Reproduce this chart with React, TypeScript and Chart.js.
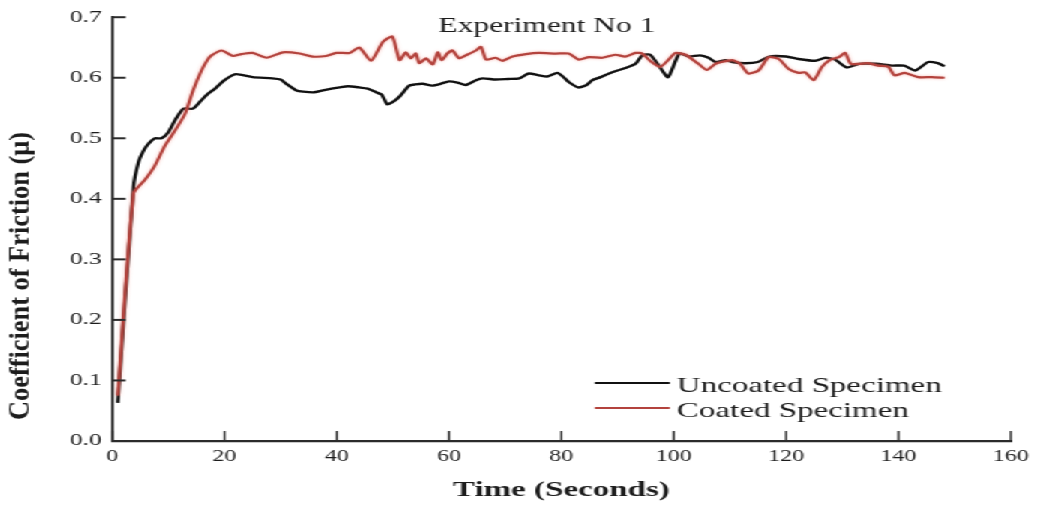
import React, { useEffect, useRef } from 'react';
import { Chart, registerables } from 'chart.js';

Chart.register(...registerables);

// Friction test, experiment 1: time (s) vs coefficient of friction
const uncoatedTime = [1, 3.8, 4.7, 5.5, 6.2, 7, 7.6, 8.8, 10, 11.2, 12.7, 14.4, 15.9, 17, 18.3, 20, 22, 25, 28.5, 30, 31, 32.8, 34, 36, 38, 40.5, 42, 44, 45.5, 47, 48, 49, 50, 51.2, 52.9, 54, 55.3, 57, 58.5, 60, 61.5, 63, 64.8, 66, 68.3, 70.5, 72.5, 74.2, 76, 77.5, 79.3, 80.5, 81.3, 83, 84.5, 85.5, 87, 88.5, 90, 91.4, 93.2, 94.4, 95.8, 97.5, 99, 101, 102.7, 104.7, 106.2, 107.4, 109.2, 110.4, 112.7, 115, 117, 120, 122.2, 125.2, 127, 128.7, 130.8, 133, 136, 138.8, 141, 143, 145.3, 147, 148.2];
const uncoatedMu = [0.063, 0.42, 0.461, 0.478, 0.488, 0.496, 0.5, 0.5, 0.51, 0.53, 0.549, 0.549, 0.563, 0.573, 0.582, 0.596, 0.606, 0.601, 0.599, 0.597, 0.59, 0.579, 0.577, 0.576, 0.58, 0.584, 0.586, 0.584, 0.582, 0.576, 0.572, 0.556, 0.56, 0.569, 0.587, 0.589, 0.59, 0.587, 0.59, 0.594, 0.592, 0.588, 0.596, 0.599, 0.597, 0.598, 0.599, 0.607, 0.604, 0.602, 0.608, 0.6, 0.593, 0.584, 0.588, 0.596, 0.601, 0.607, 0.612, 0.616, 0.623, 0.637, 0.638, 0.618, 0.601, 0.64, 0.635, 0.637, 0.633, 0.626, 0.629, 0.626, 0.624, 0.626, 0.635, 0.635, 0.631, 0.628, 0.633, 0.63, 0.617, 0.623, 0.623, 0.62, 0.62, 0.612, 0.626, 0.624, 0.619];

const coatedTime = [1, 3.8, 5.8, 7.6, 9.4, 11.2, 13, 14.4, 15.9, 17, 17.7, 19.5, 21.5, 23, 25, 27.5, 30.4, 33.4, 35.7, 38.1, 39.9, 42.3, 44, 46.1, 48.2, 49.9, 51.2, 52.3, 53.2, 54.1, 54.7, 55.9, 57.1, 58, 58.7, 59.7, 60.6, 61.8, 63, 64.8, 65.7, 66.6, 68.3, 69.5, 71.3, 73.7, 76, 79, 81.3, 83.1, 84.9, 87.3, 89.6, 91.4, 93.2, 94.4, 95.8, 97.6, 99.1, 100.3, 102.1, 104.4, 105.9, 107.4, 108.5, 110.4, 111.8, 113.3, 115.1, 116.9, 118.7, 120.4, 122.2, 123.4, 124.9, 126.4, 127.9, 129.4, 130.5, 131.5, 133, 134.6, 136.4, 138.2, 139.3, 141.1, 143.5, 145.9, 148.2];
const coatedMu = [0.075, 0.409, 0.431, 0.455, 0.488, 0.513, 0.541, 0.579, 0.612, 0.63, 0.637, 0.645, 0.636, 0.639, 0.641, 0.633, 0.642, 0.64, 0.635, 0.636, 0.641, 0.641, 0.65, 0.628, 0.659, 0.668, 0.629, 0.642, 0.632, 0.64, 0.624, 0.632, 0.622, 0.642, 0.629, 0.64, 0.645, 0.632, 0.637, 0.645, 0.651, 0.63, 0.633, 0.628, 0.635, 0.639, 0.641, 0.64, 0.64, 0.63, 0.634, 0.633, 0.638, 0.635, 0.641, 0.64, 0.628, 0.618, 0.63, 0.641, 0.638, 0.623, 0.613, 0.623, 0.626, 0.629, 0.623, 0.607, 0.612, 0.634, 0.631, 0.615, 0.608, 0.609, 0.596, 0.618, 0.63, 0.634, 0.641, 0.623, 0.623, 0.624, 0.62, 0.618, 0.604, 0.608, 0.601, 0.601, 0.6];

const seriesLabels = ['Uncoated Specimen', 'Coated Specimen'];
const seriesColors = ['#111111', '#b3433d'];

const chartTitle = 'Experiment No 1';
const xTitle = 'Time (Seconds)';
const yTitle = 'Coefficient of Friction (\u03bc)';

const xMin = 0;
const xMax = 160;
const xStep = 20;
const yMin = 0;
const yMax = 0.7;
const yStep = 0.1;

// The figure is drawn narrow and widened horizontally as a whole.
const WIDEN = 1.5;
const PAGE_W = 1038;
const PAGE_H = 508;
const CANVAS_W = PAGE_W / WIDEN;

const SERIF = '"Liberation Serif", "Times New Roman", serif';
const AXIS_COLOR = '#2b2b2b';
const TEXT_COLOR = '#1c1c1c';

const PLOT_LEFT = 112 / WIDEN;
const PLOT_RIGHT = 1013 / WIDEN;
const PLOT_TOP = 17;
const PLOT_BOTTOM = 441;

const insideTicks = {
  id: 'insideTicks',
  afterDraw(chart: any) {
    const { ctx, chartArea, scales } = chart;
    const xs = scales.x;
    const ys = scales.y;
    ctx.save();
    ctx.strokeStyle = AXIS_COLOR;
    ctx.lineWidth = 1.4;
    xs.ticks.forEach((t: any) => {
      const px = xs.getPixelForValue(t.value);
      ctx.beginPath();
      ctx.moveTo(px, chartArea.bottom);
      ctx.lineTo(px, chartArea.bottom - 10);
      ctx.stroke();
    });
    ctx.lineWidth = 2;
    ys.ticks.forEach((t: any) => {
      const py = ys.getPixelForValue(t.value);
      ctx.beginPath();
      ctx.moveTo(chartArea.left, py);
      ctx.lineTo(chartArea.left + 9, py);
      ctx.stroke();
    });
    ctx.restore();
  },
};

const textDecor = {
  id: 'textDecor',
  afterDraw(chart: any) {
    const { ctx } = chart;
    ctx.save();
    ctx.fillStyle = TEXT_COLOR;

    // chart title inside the plot
    ctx.font = `21px ${SERIF}`;
    ctx.textAlign = 'center';
    ctx.textBaseline = 'alphabetic';
    ctx.fillText(chartTitle, 547 / WIDEN, 32);

    // vertical axis title, narrow bold lettering
    ctx.font = `bold 18px ${SERIF}`;
    const w = ctx.measureText(yTitle).width;
    ctx.save();
    ctx.translate(22 / WIDEN, 276);
    ctx.rotate(-Math.PI / 2);
    ctx.scale(288 / w, 1);
    ctx.textAlign = 'center';
    ctx.textBaseline = 'middle';
    ctx.fillText(yTitle, 0, 0);
    ctx.restore();

    // legend inside the plot, lower right
    const rows = [
      { ds: chart.data.datasets[0], y: 383 },
      { ds: chart.data.datasets[1], y: 408 },
    ];
    rows.forEach(({ ds, y }) => {
      ctx.strokeStyle = ds.borderColor;
      ctx.lineWidth = 2.2;
      ctx.beginPath();
      ctx.moveTo(595 / WIDEN, y);
      ctx.lineTo(670 / WIDEN, y);
      ctx.stroke();
      ctx.fillStyle = TEXT_COLOR;
      ctx.font = `22px ${SERIF}`;
      ctx.textAlign = 'left';
      ctx.textBaseline = 'middle';
      ctx.fillText(ds.label, 677 / WIDEN, y + 3);
    });
    ctx.restore();
  },
};

// soft pinkish halo around the coated-specimen trace
const lineGlow = {
  id: 'lineGlow',
  beforeDatasetDraw(chart: any, args: any) {
    if (args.index !== 1) return;
    const ctx = chart.ctx;
    ctx.save();
    ctx.shadowColor = 'rgba(240, 120, 110, 0.55)';
    ctx.shadowBlur = 3;
  },
  afterDatasetDraw(chart: any, args: any) {
    if (args.index !== 1) return;
    chart.ctx.restore();
  },
};

export default function App() {
  const canvasRef = useRef<HTMLCanvasElement | null>(null);

  useEffect(() => {
    if (!canvasRef.current) return;
    const chart = new Chart(canvasRef.current, {
      type: 'line',
      data: {
        datasets: [
          {
            label: seriesLabels[0],
            data: uncoatedTime.map((t, i) => ({ x: t, y: uncoatedMu[i] })),
            borderColor: seriesColors[0],
            borderWidth: 2.4,
            pointRadius: 0,
            tension: 0.2,
            order: 1,
          },
          {
            label: seriesLabels[1],
            data: coatedTime.map((t, i) => ({ x: t, y: coatedMu[i] })),
            borderColor: seriesColors[1],
            borderWidth: 2.2,
            pointRadius: 0,
            tension: 0.2,
            order: 0,
          },
        ],
      },
      options: {
        animation: false,
        responsive: true,
        maintainAspectRatio: false,
        events: [],
        layout: {
          padding: { top: PLOT_TOP, right: CANVAS_W - PLOT_RIGHT, left: 0, bottom: 0 },
        },
        plugins: {
          legend: { display: false },
          tooltip: { enabled: false },
          title: { display: false },
        },
        scales: {
          x: {
            type: 'linear',
            min: xMin,
            max: xMax,
            afterFit: (s: any) => {
              s.height = PAGE_H - PLOT_BOTTOM;
            },
            ticks: {
              stepSize: xStep,
              padding: 6,
              color: TEXT_COLOR,
              font: { family: SERIF, size: 16 },
              maxRotation: 0,
            },
            grid: { display: false, drawTicks: false },
            border: { display: true, color: AXIS_COLOR, width: 2.2 },
            title: {
              display: true,
              text: xTitle,
              color: TEXT_COLOR,
              font: { family: SERIF, size: 22, weight: 'bold' },
              padding: { top: 0, bottom: 4 },
            },
          },
          y: {
            type: 'linear',
            min: yMin,
            max: yMax,
            afterFit: (s: any) => {
              s.width = PLOT_LEFT;
            },
            ticks: {
              stepSize: yStep,
              padding: 7,
              color: TEXT_COLOR,
              font: { family: SERIF, size: 17 },
              callback: (v: any) => Number(v).toFixed(1),
            },
            grid: { display: false, drawTicks: false },
            border: { display: true, color: AXIS_COLOR, width: 1.8 },
          },
        },
      },
      plugins: [insideTicks, textDecor, lineGlow],
    } as any);
    return () => chart.destroy();
  }, []);

  return (
    <div
      style={{
        position: 'fixed',
        left: 0,
        top: 0,
        width: CANVAS_W,
        height: PAGE_H,
        transform: `scaleX(${WIDEN})`,
        transformOrigin: '0 0',
        background: '#fff',
      }}
    >
      <canvas ref={canvasRef} />
    </div>
  );
}
